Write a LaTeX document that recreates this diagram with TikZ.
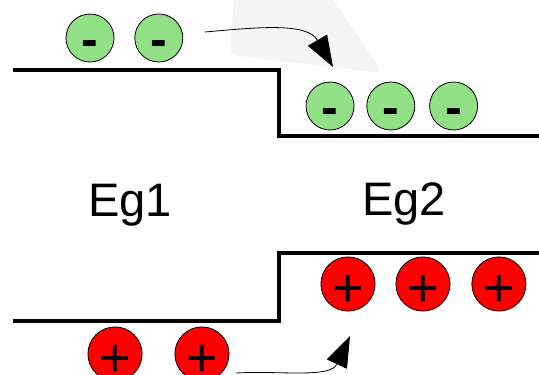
\documentclass[tikz,border=0pt]{standalone}
\usepackage{fontspec}
\setmainfont{Liberation Sans}
\usetikzlibrary{arrows.meta,positioning}
\definecolor{elgreen}{RGB}{146,224,133}
\tikzstyle{electron}=[circle, draw=black, line width=0.8pt, fill=elgreen, minimum size=48pt, inner sep=0pt, font=\fontsize{50}{50}\bfseries\selectfont, text height=36pt, text depth=0pt]
\tikzstyle{hole}=[circle, draw=black, line width=0.8pt, fill=red, minimum size=49pt, inner sep=0pt, font=\fontsize{54}{54}\selectfont, text height=44pt, text depth=0pt]
\tikzstyle{band}=[line width=3.5pt]
\tikzstyle{gap}=[anchor=base, font=\fontsize{47}{47}\selectfont]
\tikzstyle{hop}=[-{Triangle[length=31pt 0,width=22pt 0]}, line width=0.8pt]

\begin{document}
\begin{tikzpicture}[x=1pt, y=-1pt, node distance=19pt]
\useasboundingbox (0,0) rectangle (539,375);
% faint shadow
\fill[black!4, rounded corners=8pt] (234,-5) -- (230,55) -- (383,73) -- (330,-5) -- cycle;
% band edges
\draw[band] (13,70) -- (279,70) -- (279,136) -- (539,136);
\draw[band] (13,321) -- (279,321) -- (279,253) -- (539,253);
% electrons
\node[electron] (1) at (90,38) {-};
\node[electron, right=20pt of 1] (2) {-};
\node[electron] (3) at (330,106) {-};
\node[electron, right=12pt of 3] (4) {-};
\node[electron, right=14pt of 4] (5) {-};
% holes
\node[hole] (6) at (348,284) {+};
\node[hole, right=20pt of 6] (7) {+};
\node[hole, right=21pt of 7] (8) {+};
\node[hole] (9) at (115,354) {+};
\node[hole, right=32pt of 9] (10) {+};
% gaps
\node[gap] (g1) at (130,216) {Eg1};
\node[gap] (g2) at (404,215) {Eg2};
% transfer
\coordinate (a) at (205,32);
\coordinate (b) at (333,67);
\draw[hop] (a) to[out=5, in=120] (b);
\coordinate (c) at (236,373);
\coordinate (d) at (350,336);
\draw[hop] (c) to[out=3, in=245] (d);
\end{tikzpicture}
\end{document}
